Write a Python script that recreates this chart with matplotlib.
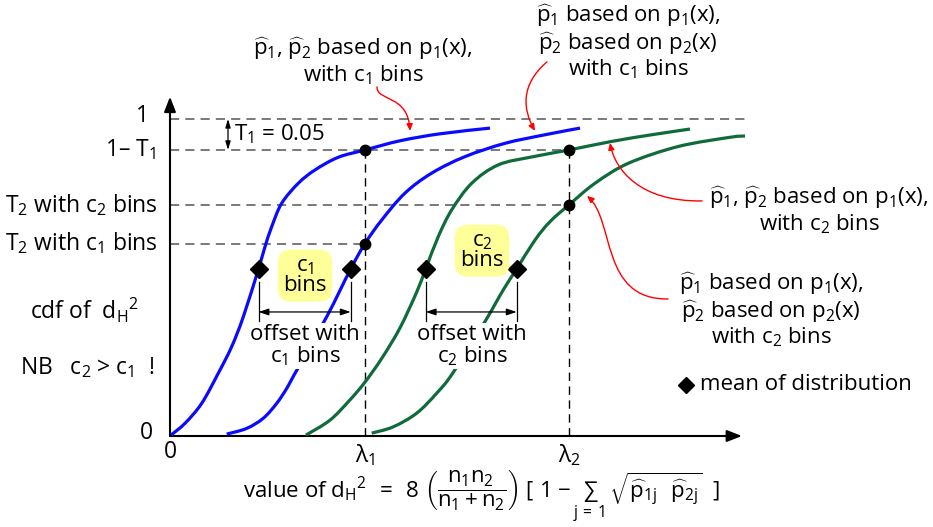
import matplotlib.pyplot as plt
from matplotlib.path import Path
from matplotlib.patches import FancyArrowPatch, PathPatch

plt.rcParams['font.family'] = ['Open Sans', 'DejaVu Sans']
plt.rcParams['mathtext.fontset'] = 'custom'
plt.rcParams['mathtext.rm'] = 'Open Sans'
plt.rcParams['mathtext.it'] = 'Open Sans'
plt.rcParams['mathtext.bf'] = 'Open Sans:bold'

# cdf curves (x = value of d_H^2, y = cdf)
blue1_x = [0.01, 0.15, 0.317, 0.483, 0.617, 0.733, 0.885, 0.95, 1.017, 1.117, 1.283, 1.45, 1.683, 1.95,
           2.30, 2.70, 3.20]
blue1_y = [0.003, 0.040, 0.103, 0.198, 0.282, 0.376, 0.527, 0.597, 0.660, 0.734, 0.797, 0.839, 0.879, 0.902,
           0.931, 0.953, 0.971]
blue2_x = [0.567, 0.767, 0.933, 1.067, 1.167, 1.24, 1.567, 1.807, 1.95, 2.117, 2.35, 2.617, 2.95, 3.35, 3.75, 4.10]
blue2_y = [0.006, 0.024, 0.056, 0.103, 0.150, 0.192, 0.376, 0.527, 0.607, 0.681, 0.766, 0.829, 0.881, 0.923, 0.950,
           0.971]
green1_x = [1.36, 1.60, 1.80, 1.95, 2.12, 2.30, 2.467, 2.557, 2.683, 2.817, 3.017, 3.283, 3.617, 3.99, 4.417, 4.817,
            5.20]
green1_y = [0.003, 0.050, 0.114, 0.170, 0.246, 0.341, 0.454, 0.527, 0.629, 0.713, 0.797, 0.855, 0.880, 0.902, 0.929,
            0.950, 0.968]
green2_x = [2.017, 2.233, 2.467, 2.667, 2.827, 3.15, 3.333, 3.467, 3.65, 3.80, 3.99, 4.25, 4.583, 5.083, 5.60, 5.75]
green2_y = [0.009, 0.029, 0.072, 0.135, 0.198, 0.361, 0.461, 0.527, 0.618, 0.676, 0.729, 0.797, 0.860, 0.913, 0.942,
            0.946]

# means of the four distributions and the threshold levels
means_x = [0.885, 1.807, 2.557, 3.467]
mean_y = 0.527
lam1, lam2 = 1.95, 3.99
lvl_one = 1.0
lvl_t1 = 0.902
lvl_t2_c2 = 0.729
lvl_t2_c1 = 0.607
cross_x = [lam1, lam1, lam2, lam2]
cross_y = [lvl_t1, lvl_t2_c1, lvl_t1, lvl_t2_c2]

blue = '#0a0aff'
green = '#0f6b3a'
dash_grey = '#555555'

fig = plt.figure(figsize=(9.33, 5.27), dpi=100)
ax = fig.add_axes([0, 0, 1, 1])
ax.set_xlim(-1.70, 7.63)
ax.set_ylim(-0.287, 1.375)
ax.axis('off')


def P(px, py):
    # layout helper: pixel position -> data coords
    return ((px - 170) / 100.0, (436 - py) / 317.0)


def smooth_curve(xs, ys, color):
    # Catmull-Rom through the points, drawn as cubic Bezier segments
    pts = list(zip(xs, ys))
    verts = [pts[0]]
    codes = [Path.MOVETO]
    for i in range(len(pts) - 1):
        p0 = pts[i - 1] if i > 0 else pts[i]
        p1, p2 = pts[i], pts[i + 1]
        p3 = pts[i + 2] if i + 2 < len(pts) else pts[i + 1]
        c1 = (p1[0] + (p2[0] - p0[0]) / 6, p1[1] + (p2[1] - p0[1]) / 6)
        c2 = (p2[0] - (p3[0] - p1[0]) / 6, p2[1] - (p3[1] - p1[1]) / 6)
        verts += [c1, c2, p2]
        codes += [Path.CURVE4] * 3
    ax.add_patch(PathPatch(Path(verts, codes), facecolor='none', edgecolor=color, lw=2.3, zorder=3,
                           capstyle='butt'))


# axes with arrow heads
ax.annotate('', xy=(5.72, 0), xytext=(0, 0),
            arrowprops=dict(arrowstyle='-|>,head_length=0.9,head_width=0.35', color='black', lw=1.5, shrinkA=0, shrinkB=0))
ax.annotate('', xy=(0, 1.07), xytext=(0, 0),
            arrowprops=dict(arrowstyle='-|>,head_length=0.9,head_width=0.35', color='black', lw=1.5, shrinkA=0, shrinkB=0))

# dashed guide lines
ax.plot([0, 5.75], [lvl_one, lvl_one], color=dash_grey, lw=1.1, ls=(0, (6, 4)))
ax.plot([0, lam2], [lvl_t1, lvl_t1], color=dash_grey, lw=1.1, ls=(0, (6, 4)))
ax.plot([0, lam2], [lvl_t2_c2, lvl_t2_c2], color=dash_grey, lw=1.1, ls=(0, (6, 4)))
ax.plot([0, lam1], [lvl_t2_c1, lvl_t2_c1], color=dash_grey, lw=1.1, ls=(0, (6, 4)))
ax.plot([lam1, lam1], [0, lvl_t1], color='black', lw=1.0, ls=(0, (6, 4)))
ax.plot([lam2, lam2], [0, lvl_t1], color='black', lw=1.0, ls=(0, (6, 4)))

# curves
smooth_curve(blue1_x, blue1_y, blue)
smooth_curve(blue2_x, blue2_y, blue)
smooth_curve(green1_x, green1_y, green)
smooth_curve(green2_x, green2_y, green)

# markers
ax.plot(cross_x, cross_y, 'o', color='black', ms=7.5, zorder=5)
ax.plot(means_x, [mean_y] * 4, 'D', color='black', ms=9, zorder=5)

# offset bars between the means
bar_y = P(0, 312)[1]
for a, b in [(means_x[0], means_x[1]), (means_x[2], means_x[3])]:
    for xx in (a, b):
        ax.plot([xx, xx], [P(0, 321)[1], P(0, 282)[1]], color='black', lw=0.9, zorder=4)
    ax.annotate('', xy=(b, bar_y), xytext=(a, bar_y),
                arrowprops=dict(arrowstyle='<|-|>,head_length=0.6,head_width=0.2', color='black', lw=0.9,
                                shrinkA=0, shrinkB=0), zorder=4)

fs = 16
white = dict(facecolor='white', edgecolor='none', pad=1)
ax.text(*P(305, 346), 'offset with\nc$_1$ bins', ha='center', va='center', fontsize=fs,
        linespacing=0.95, bbox=white, zorder=6)
ax.text(*P(472, 346), 'offset with\nc$_2$ bins', ha='center', va='center', fontsize=fs,
        linespacing=0.95, bbox=white, zorder=6)

yellow = dict(boxstyle='round,pad=0.25,rounding_size=0.6', facecolor='#ffff99', edgecolor='none')
ax.text(*P(305, 276), 'c$_1$\nbins', ha='center', va='center', fontsize=fs, linespacing=0.9, bbox=yellow, zorder=6)
ax.text(*P(482, 251), 'c$_2$\nbins', ha='center', va='center', fontsize=fs, linespacing=0.9, bbox=yellow, zorder=6)

# T1 marker
ax.annotate('', xy=(P(228, 0)[0], lvl_one), xytext=(P(228, 0)[0], lvl_t1),
            arrowprops=dict(arrowstyle='<|-|>,head_length=0.5,head_width=0.15', color='black', lw=0.9,
                            shrinkA=0, shrinkB=0))
ax.text(*P(234, 134), 'T$_1$ = 0.05', ha='left', va='center', fontsize=fs)

# y labels
tfs = 16.5
ax.text(P(149, 0)[0], lvl_one + 0.008, '1', ha='right', va='center', fontsize=tfs)
ax.text(P(156, 0)[0], lvl_t1, '1\u2013 T$_1$', ha='right', va='center', fontsize=tfs)
ax.text(P(158, 0)[0], lvl_t2_c2, 'T$_2$ with c$_2$ bins', ha='right', va='center', fontsize=tfs)
ax.text(P(158, 0)[0], lvl_t2_c1, 'T$_2$ with c$_1$ bins', ha='right', va='center', fontsize=tfs)
ax.text(P(153, 0)[0], 0.01, '0', ha='right', va='center', fontsize=tfs)
ax.text(0, P(0, 452)[1], '0', ha='center', va='center', fontsize=tfs)
ax.text(lam1, P(0, 455)[1], '\u03bb$_1$', ha='center', va='center', fontsize=tfs)
ax.text(lam2, P(0, 455)[1], '\u03bb$_2$', ha='center', va='center', fontsize=tfs)

ax.text(*P(30, 310), 'cdf of  d$_\\mathrm{H}{}^2$', ha='left', va='center', fontsize=tfs)
ax.text(*P(20, 368), 'NB   c$_2$ > c$_1$  !', ha='left', va='center', fontsize=tfs)

ax.text(*P(243, 497),
        r'value of d$_\mathrm{H}{}^2$ $\,=\,$ 8 $\left(\dfrac{n_1 n_2}{n_1 + n_2}\right)$ [ 1 $-\,\sum_{j\,=\,1}\,'
        r'\sqrt{\widehat{p}_{1j}\ \ \widehat{p}_{2j}}$  ]',
        ha='left', va='center', fontsize=fs)

# annotation texts
ax.text(*P(363, 61), '$\\widehat{p}_1$, $\\widehat{p}_2$ based on p$_1$(x),\nwith c$_1$ bins',
        ha='center', va='center', fontsize=fs, linespacing=1.05)
ax.text(*P(628, 42), '$\\widehat{p}_1$ based on p$_1$(x),\n$\\widehat{p}_2$ based on p$_2$(x)\nwith c$_1$ bins',
        ha='center', va='center', fontsize=fs, linespacing=1.05)
ax.text(*P(819, 210), '$\\widehat{p}_1$, $\\widehat{p}_2$ based on p$_1$(x),\nwith c$_2$ bins',
        ha='center', va='center', fontsize=fs, linespacing=1.05)
ax.text(*P(771, 310), '$\\widehat{p}_1$ based on p$_1$(x),\n$\\widehat{p}_2$ based on p$_2$(x)\nwith c$_2$ bins',
        ha='center', va='center', fontsize=fs, linespacing=1.05)

# red pointer arrows
pointers = [
    [(377, 87), (377, 102), (408, 94), (410, 131)],
    [(547, 62), (520, 85), (523, 110), (535, 131)],
    [(702, 201), (640, 202), (615, 170), (610, 143)],
    [(668, 299), (600, 300), (615, 220), (587, 196)],
]
for pts in pointers:
    verts = [P(*p) for p in pts]
    path = Path(verts, [Path.MOVETO, Path.CURVE4, Path.CURVE4, Path.CURVE4])
    ax.add_patch(FancyArrowPatch(path=path, arrowstyle='-|>,head_length=4,head_width=1.8',
                                 color='red', lw=1.0, zorder=6))

# legend for the diamond marker
ax.plot(*P(686, 385), 'D', color='black', ms=8)
ax.text(*P(700, 385), 'mean of distribution', ha='left', va='center', fontsize=fs)

fig.savefig('out.png', dpi=100)
